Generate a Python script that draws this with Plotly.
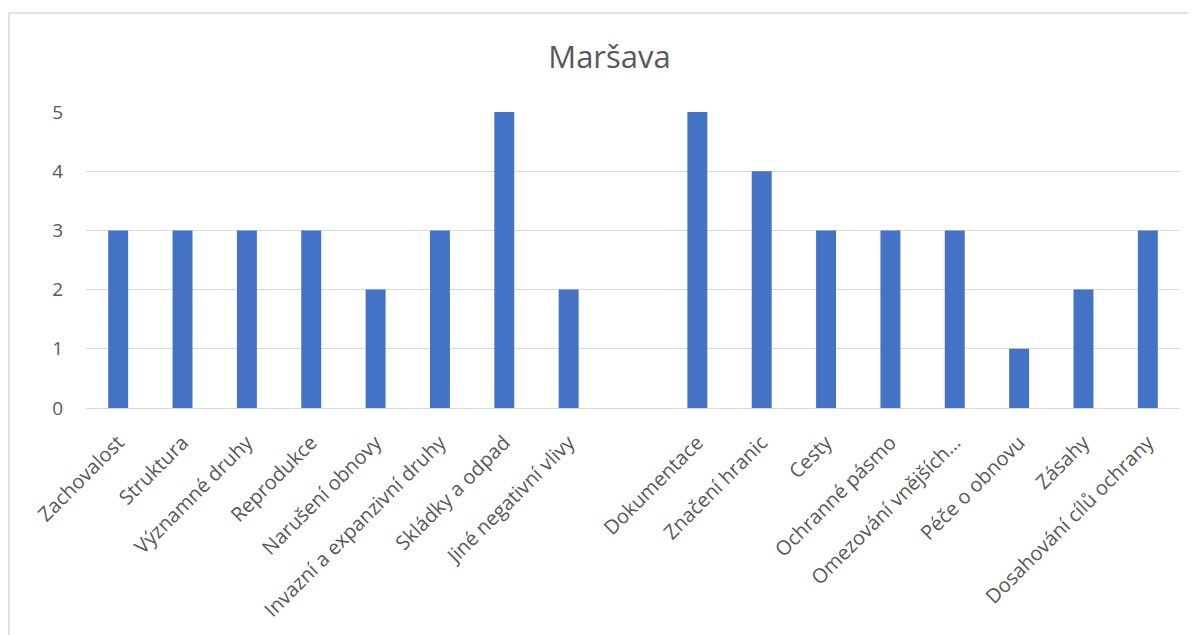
import plotly.graph_objects as go

categories = [
    "Zachovalost", "Struktura", "Významné druhy", "Reprodukce", "Narušení obnovy",
    "Invazní a expanzivní druhy", "Skládky a odpad", "Jiné negativní vlivy", " ",
    "Dokumentace", "Značení hranic", "Cesty", "Ochranné pásmo", "Omezování vnějších…",
    "Péče o obnovu", "Zásahy", "Dosahování cílů ochrany",
]
values = [3, 3, 3, 3, 2, 3, 5, 2, None, 5, 4, 3, 3, 3, 1, 2, 3]
y_ticks = [0, 1, 2, 3, 4, 5]
title_text = "Maršava"

FONT = "'Open Sans', 'Noto Sans', sans-serif"
GREY = "#595959"

OFF = 8  # page body margin
W, H = 1196, 635
L, R, T, B = 78, 24, 104, 235
pw, ph = W - L - R, H - T - B


def px_to_paper_x(x):
    return (x - OFF - L) / pw


def px_to_paper_y(y):
    return (OFF + H - B - y) / ph


fig = go.Figure(go.Bar(
    x=categories, y=values, marker_color="#4472C4", marker_line_width=0,
))

fig.update_layout(
    width=W, height=H,
    margin=dict(l=L, r=R, t=T, b=B),
    paper_bgcolor="white", plot_bgcolor="white",
    bargap=0.69,
    showlegend=False,
    title=dict(text=title_text, x=(609.5 - OFF) / W, xref="container", xanchor="center",
               y=1 - (57 - OFF) / H, yref="container", yanchor="middle",
               font=dict(family=FONT, size=31, color=GREY)),
    font=dict(family=FONT, color=GREY),
    shapes=[dict(type="rect", xref="paper", yref="paper",
                 x0=px_to_paper_x(9), x1=px_to_paper_x(1215),
                 y0=px_to_paper_y(655), y1=px_to_paper_y(13),
                 line=dict(color="#D9D9D9", width=1.5), fillcolor="rgba(0,0,0,0)",
                 layer="below")],
)
fig.update_xaxes(type="category", tickangle=-45, tickfont=dict(size=20, color=GREY),
                 showline=True, linecolor="#D9D9D9", linewidth=1, ticks="",
                 showgrid=False, categoryorder="array", categoryarray=categories,
                 ticklabelstandoff=14)
fig.update_yaxes(range=[0, 5], tickvals=y_ticks, showgrid=True, gridcolor="#D9D9D9",
                 gridwidth=1, zeroline=False, showline=False, ticks="",
                 tickfont=dict(size=19, color=GREY), ticklabelstandoff=22)

fig.write_html("out.html")
